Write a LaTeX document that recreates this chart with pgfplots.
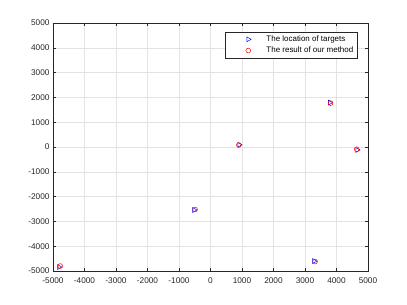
\documentclass[border=0pt]{standalone}
\usepackage{pgfplots}
\pgfplotsset{compat=1.18}
\usepackage{fontspec}
\setmainfont{Liberation Sans}
\usetikzlibrary{calc}
\definecolor{axgray}{rgb}{0.15,0.15,0.15}
\definecolor{gridgray}{rgb}{0.89,0.89,0.89}
\begin{document}
\begin{tikzpicture}
\begin{axis}[
  scale only axis,
  width=315bp, height=248bp,
  xmin=-5000, xmax=5000, ymin=-5000, ymax=5000,
  xtick={-5000,-4000,...,5000},
  ytick={-5000,-4000,...,5000},
  scaled ticks=false,
  /pgf/number format/assume math mode=true,
  /pgf/number format/set thousands separator={},
  tick label style={font=\fontsize{8.3}{9}\selectfont, text=axgray},
  xticklabel style={yshift=-3bp},
  grid=major,
  major grid style={gridgray, line width=0.4pt},
  axis line style={axgray, line width=0.5pt},
  tick style={axgray, line width=0.5pt},
  tick align=inside,
  major tick length=3bp,
  legend style={at={(1,1)}, anchor=north east, xshift=-11bp, yshift=-9bp,
    font=\fontsize{8}{9}\selectfont, draw=axgray, line width=0.4pt,
    inner sep=1.5bp, row sep=0pt},
  legend cell align=left,
  legend image code/.code={\path (0bp,0bp) (37bp,0bp); \draw[#1] plot coordinates {(21bp,0bp)};},
]
\addplot[only marks, blue, mark=triangle, mark size=2.8bp, mark options={rotate=-90, line width=0.5pt}]
  coordinates {(-4810,-4840) (-520,-2540) (910,90) (3290,-4600) (3790,1790) (4660,-120)};
\addlegendentry{The location of targets}
\addplot[only marks, red, mark=o, mark size=2.4bp, mark options={line width=0.5pt}]
  coordinates {(-4770,-4800) (-490,-2520) (900,80) (3320,-4620) (3810,1770) (4640,-90)};
\addlegendentry{The result of our method}
\end{axis}
\path[use as bounding box] ($(current axis.south west)+(-53bp,-34bp)$) rectangle ++(407bp,305bp);
\end{tikzpicture}
\end{document}
